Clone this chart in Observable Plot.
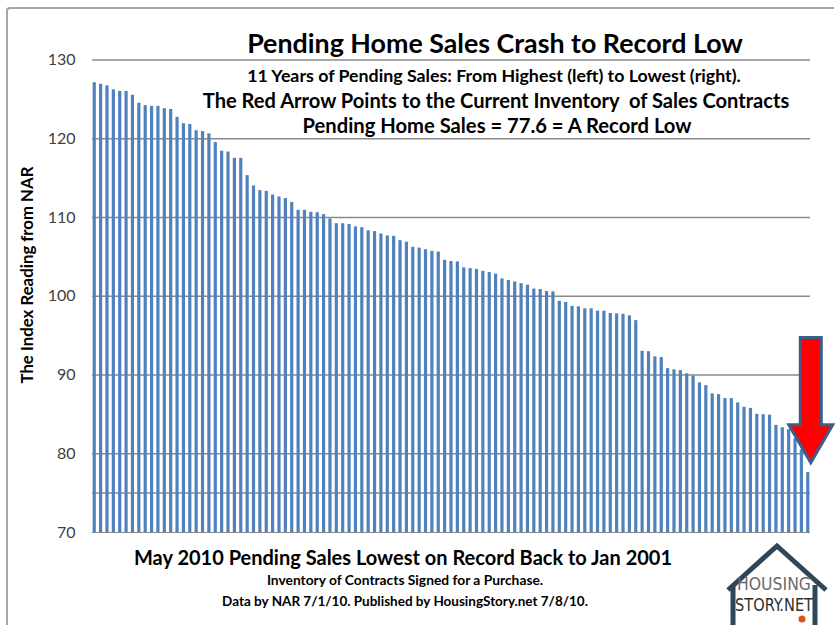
<!DOCTYPE html>
<html>
<head>
<meta charset="utf-8">
<script src="https://cdn.jsdelivr.net/npm/d3@7"></script>
<script src="https://cdn.jsdelivr.net/npm/@observablehq/plot@0.6"></script>
<style>
  html, body { margin: 0; padding: 0; background: #fff; }
  #wrap { position: relative; width: 836px; height: 625px; overflow: hidden; font-family: Lato, "Open Sans", sans-serif; }
  #frame { position: absolute; left: 6px; top: 7px; width: 826px; height: 640px; border-top: 2px solid #a6a6a6; border-left: 2px solid #a6a6a6; border-top-left-radius: 4px; }
  .t { position: absolute; text-align: center; white-space: nowrap; color: #000; font-weight: bold; }
  #ylab { position: absolute; left: 26px; top: 275px; transform: translate(-50%, -50%) rotate(-90deg); font-weight: bold; font-size: 16.8px; white-space: nowrap; color: #000; }
  #logo { position: absolute; left: 722px; top: 540px; }
</style>
</head>
<body>
<div id="wrap">
  <div id="frame"></div>
  <div id="chart"></div>
  <div class="t" style="left:95px;width:800px;top:27px;font-size:26.8px;line-height:32px;">Pending Home Sales Crash to Record Low</div>
  <div class="t" style="left:94px;width:800px;top:65px;font-size:17.8px;line-height:20px;">11 Years of Pending Sales: From Highest (left) to Lowest (right).</div>
  <div class="t" style="left:96px;width:800px;top:88px;font-size:20.1px;line-height:24px;">The Red Arrow Points to the Current Inventory &nbsp;of Sales Contracts</div>
  <div class="t" style="left:97px;width:800px;top:113px;font-size:20.2px;line-height:24px;">Pending Home Sales = 77.6 = A Record Low</div>
  <div class="t" style="left:3px;width:800px;top:545px;font-size:20px;line-height:24px;">May 2010 Pending Sales Lowest on Record Back to Jan 2001</div>
  <div class="t" style="left:105px;width:600px;top:572px;font-size:13.8px;line-height:16px;">Inventory of Contracts Signed for a Purchase.</div>
  <div class="t" style="left:105px;width:600px;top:593px;font-size:13.5px;line-height:16px;">Data by NAR 7/1/10. Published by HousingStory.net 7/8/10.</div>
  <div id="ylab">The Index Reading from NAR</div>
  <svg id="logo" width="110" height="90" viewBox="0 0 110 90">
    <path d="M6,50 L55,6 L104,50" fill="none" stroke="#2f4656" stroke-width="5" stroke-linejoin="miter"/>
    <path d="M11,45 L11,90 M93,45 L93,90" fill="none" stroke="#2f4656" stroke-width="5"/>
    <text x="52" y="50" text-anchor="middle" font-family="'Liberation Sans Narrow', 'DejaVu Sans Condensed', sans-serif" font-size="18" fill="#6b6b6b" textLength="74" lengthAdjust="spacingAndGlyphs">HOUSING</text>
    <text x="52" y="71" text-anchor="middle" font-family="'Liberation Sans Narrow', 'DejaVu Sans Condensed', sans-serif" font-size="18" fill="#2f2f2f" textLength="78" lengthAdjust="spacingAndGlyphs">STORY.NET</text>
    <circle cx="80" cy="79" r="3.5" fill="#d9541e"/>
  </svg>
</div>
<script>
// Pending Home Sales Index, Jan 2001 - May 2010, sorted highest to lowest
const indexValues = [
  127.1,126.9,126.7,126.2,126.0,126.0,125.5,124.5,124.2,124.1,124.1,123.8,123.7,122.7,121.9,121.8,
  121.0,120.9,120.6,119.5,118.4,118.3,117.5,117.5,115.3,114.0,113.4,113.3,112.85,112.6,112.4,111.9,
  110.9,110.9,110.65,110.6,110.35,109.8,109.2,109.2,109.1,108.8,108.7,108.3,108.2,107.9,107.65,107.6,
  107.05,106.85,106.2,106.1,105.9,105.7,105.6,104.55,104.4,104.35,103.6,103.5,103.4,103.15,103.0,102.8,
  102.2,102.0,101.8,101.6,101.4,100.9,100.85,100.6,100.55,99.35,99.2,98.7,98.65,98.4,98.4,98.1,
  98.1,97.8,97.75,97.7,97.5,96.9,93.0,92.95,92.3,92.2,90.8,90.65,90.55,90.15,89.85,89.0,
  88.65,87.6,87.5,87.0,87.0,86.45,85.9,85.75,85.0,84.95,84.9,83.6,83.3,83.05,81.9,80.5,77.6
];
const ranks = indexValues.map((_, i) => i + 1);
const yTicks = [70, 80, 90, 100, 110, 120, 130];
const gridLines = [75, 80, 90, 100, 110, 120, 130];
// red arrow annotation (in index units) pointing at the current reading
const arrowTop = 94.7, arrowHeadBase = 83.6, arrowTip = 78.8;

const data = ranks.map((r, i) => ({rank: r, value: indexValues[i]}));

const chart = Plot.plot({
  width: 836,
  height: 625,
  marginLeft: 92,
  marginRight: 26,
  marginTop: 20,
  marginBottom: 93,
  style: {fontFamily: "Lato, 'Open Sans', sans-serif", fontSize: "16px", color: "#404040", background: "transparent"},
  x: {type: "band", domain: ranks, paddingInner: 0.5, paddingOuter: 0.1, axis: null},
  y: {domain: [70, 135], ticks: yTicks, tickSize: 0, tickPadding: 17, label: null},
  marks: [
    Plot.ruleY(gridLines, {stroke: "#8a8a8a", strokeWidth: 1.5}),
    Plot.barY(data, {x: "rank", y1: 70, y2: "value", fill: "#4f81bd"}),
    Plot.ruleX([0], {frameAnchor: "left", stroke: "#8a8a8a", strokeWidth: 1.5}),
    Plot.ruleY([70], {stroke: "#8a8a8a", strokeWidth: 1})
  ]
});
document.getElementById("chart").appendChild(chart);

// Draw the block arrow using the chart's own scales
const xs = chart.scale("x"), ys = chart.scale("y");
const last = ranks[ranks.length - 1];
const cx = xs.apply(last) + (xs.bandwidth || 0) / 2 + 3;
const yT = ys.apply(arrowTop), yB = ys.apply(arrowHeadBase), yP = ys.apply(arrowTip);
const sw = 10.5, hw = 22;
d3.select(chart).append("path")
  .attr("d", `M${cx - sw},${yT} L${cx + sw},${yT} L${cx + sw},${yB} L${cx + hw},${yB} L${cx},${yP} L${cx - hw},${yB} L${cx - sw},${yB} Z`)
  .attr("fill", "#ff0000")
  .attr("stroke", "#3b5e8c")
  .attr("stroke-width", 3)
  .attr("stroke-linejoin", "miter");
</script>
</body>
</html>
